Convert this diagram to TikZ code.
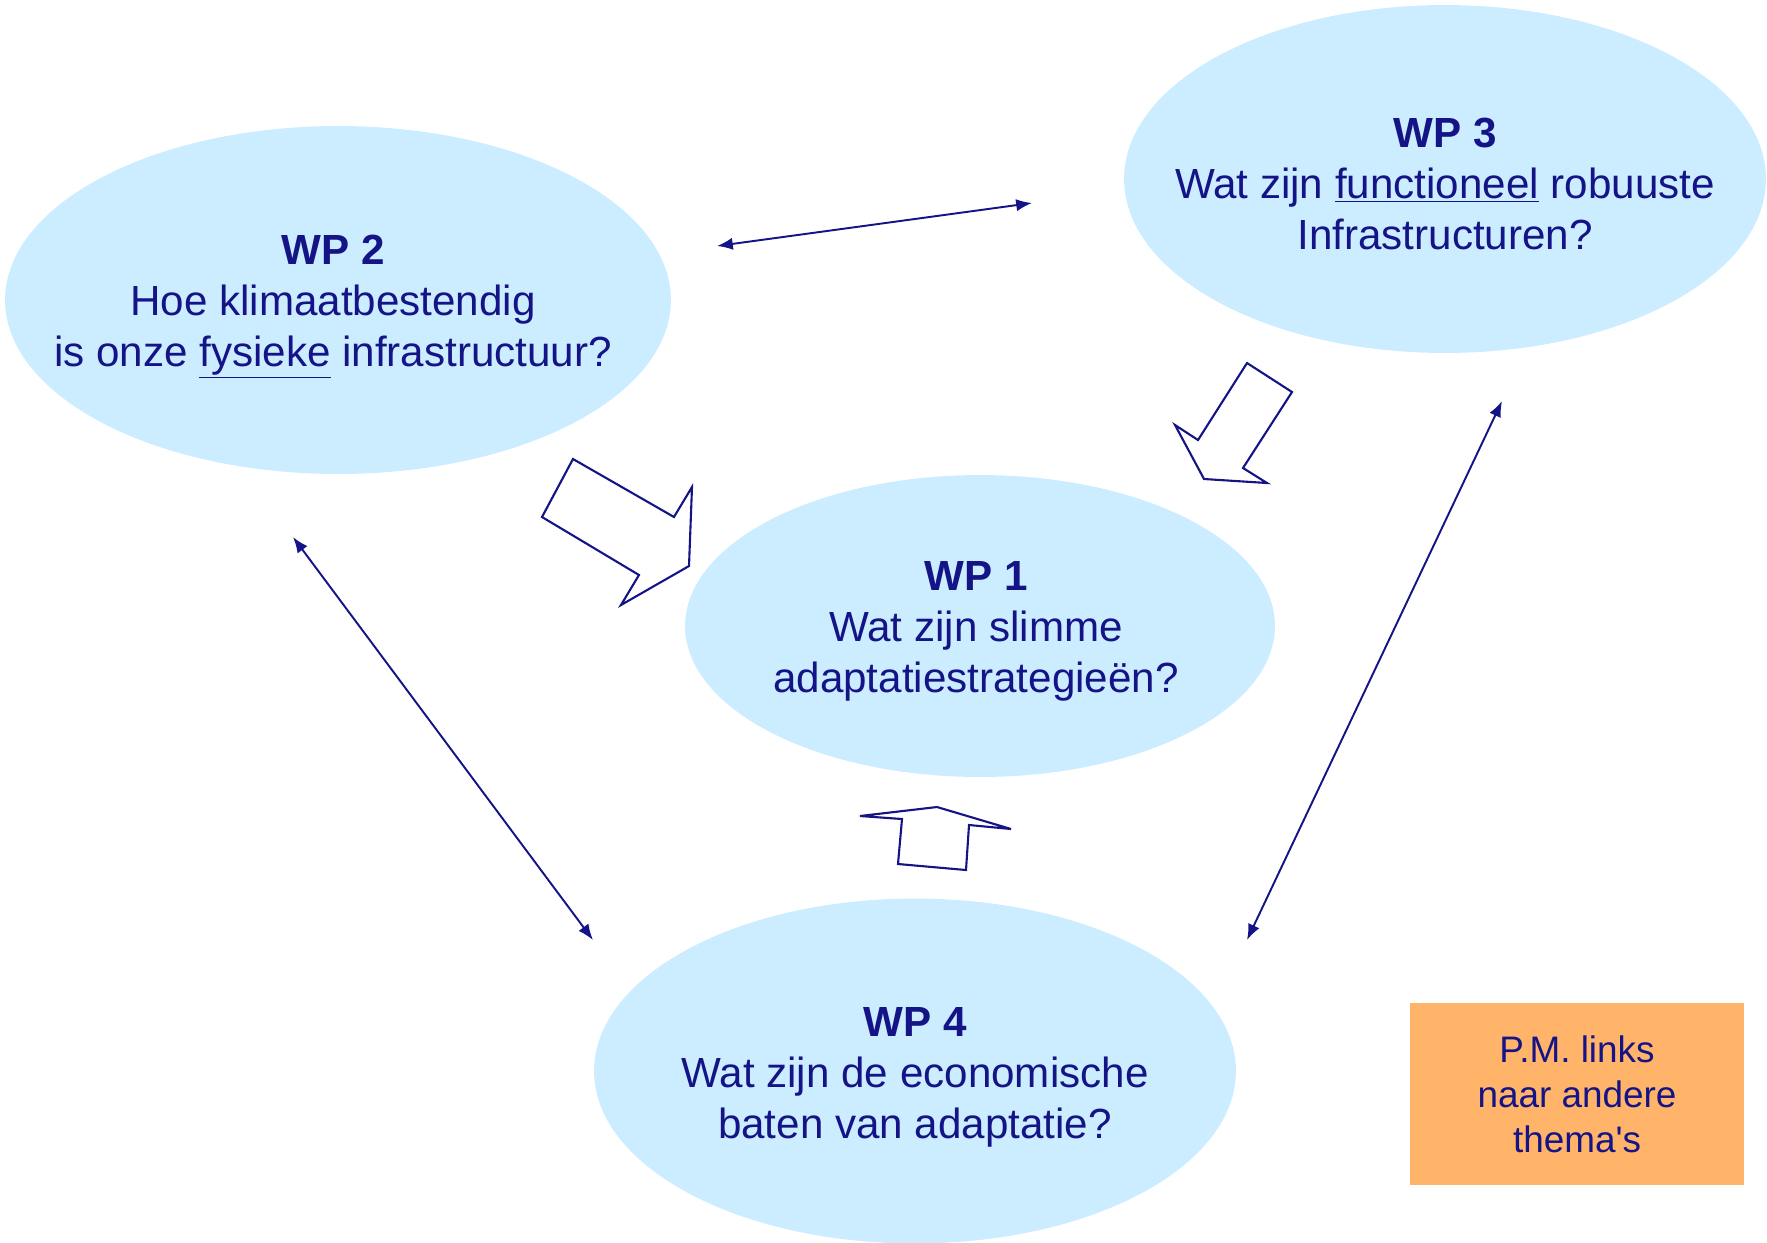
\documentclass[tikz,border=0pt]{standalone}
\usepackage{fontspec}
\setmainfont{Liberation Sans}[Ligatures=NoCommon]
\usetikzlibrary{shapes.geometric,arrows.meta}
\definecolor{navy}{RGB}{20,20,135}
\definecolor{wpfill}{RGB}{204,236,255}
\definecolor{pmfill}{RGB}{255,180,105}
\tikzset{
  wp/.style={ellipse, fill=wpfill, draw=none, inner sep=0pt},
  wptext/.style={text=navy, align=center, inner sep=0pt,
    font=\fontsize{24}{29}\selectfont},
  link/.style={draw=navy, line width=1.1pt, {Latex[length=9pt,width=7pt]}-{Latex[length=9pt,width=7pt]}},
  blockarrow/.style={draw=navy, fill=white, line width=1.2pt, line join=miter},
  pmbox/.style={rectangle, fill=pmfill, draw=none, text=navy, align=center,
    font=\fontsize{21}{25.5}\selectfont, inner sep=0pt}
}
\begin{document}
\begin{tikzpicture}[x=0.02cm,y=-0.02cm]
\useasboundingbox (0,0) rectangle (1767,1242);
% ellipses
\node[wp, minimum width=13.32cm, minimum height=6.96cm] (wp2) at (338,300) {};
\node[wp, minimum width=12.84cm, minimum height=6.96cm] (wp3) at (1445,179) {};
\node[wp, minimum width=11.8cm, minimum height=6.04cm] (wp1) at (980,626) {};
\node[wp, minimum width=12.84cm, minimum height=6.9cm] (wp4) at (915,1071) {};
% texts
\node[wptext] (wp2t) at (333,307)
  {\textbf{WP 2}\\Hoe klimaatbestendig\\is onze \underline{fysieke} infrastructuur?};
\node[wptext] (wp3t) at (1445,184)
  {\textbf{WP 3}\\Wat zijn \underline{functioneel} robuuste\\Infrastructuren?};
\node[wptext] (wp1t) at (976,631)
  {\textbf{WP 1}\\Wat zijn slimme\\adaptatiestrategieën?};
\node[wptext] (wp4t) at (915,1077)
  {\textbf{WP 4}\\Wat zijn de economische\\baten van adaptatie?};
% orange box
\node[pmbox, minimum width=6.68cm, minimum height=3.63cm] (pm) at (1577,1094)
  {P.M. links\\naar andere\\thema\textquotesingle s};
% link endpoints
\coordinate (a1) at (717,246);
\coordinate (a2) at (1032,203);
\coordinate (b1) at (293,537);
\coordinate (b2) at (593,940);
\coordinate (c1) at (1502,401);
\coordinate (c2) at (1247,940);
\draw[link] (a1) -- (a2);
\draw[link] (b1) -- (b2);
\draw[link] (c1) -- (c2);
% block arrows
\draw[blockarrow] (542,517) -- (573,459) -- (674,517) -- (692,487) -- (689,566) -- (621,605) -- (639,575) -- cycle;
\draw[blockarrow] (1247,363) -- (1292,392) -- (1243,468) -- (1267,483) -- (1204,479) -- (1175,425) -- (1198,440) -- cycle;
\draw[blockarrow] (860,816) -- (937,807) -- (1011,829) -- (969,825) -- (966,870) -- (898,864) -- (902,819) -- cycle;
\end{tikzpicture}
\end{document}
